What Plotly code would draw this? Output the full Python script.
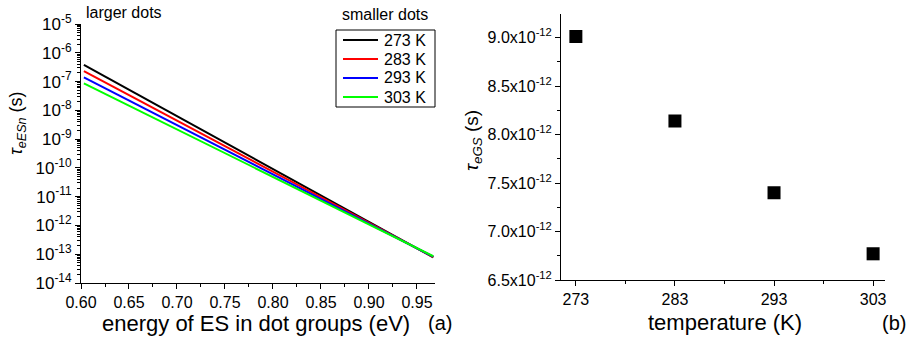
import plotly.graph_objects as go

# ---- data ----
energy_eV = [0.603, 0.967]
tau_273K = [3.8e-7, 7.8e-14]
tau_283K = [2.3e-7, 8.0e-14]
tau_293K = [1.4e-7, 8.2e-14]
tau_303K = [8.7e-8, 8.5e-14]
series_names = ["273 K", "283 K", "293 K", "303 K"]
series_colors = ["#000000", "#ff0000", "#0000ff", "#00ff00"]

temperature_K = [273, 283, 293, 303]
tau_eGS = [9.01e-12, 8.14e-12, 7.40e-12, 6.77e-12]

y_log_ticks = [10.0 ** e for e in range(-14, -4)]
y_log_text = ["10<sup>%d</sup>" % e for e in range(-14, -4)]
x_a_ticks = [0.60, 0.65, 0.70, 0.75, 0.80, 0.85, 0.90, 0.95]
y_b_ticks = [6.5e-12, 7.0e-12, 7.5e-12, 8.0e-12, 8.5e-12, 9.0e-12]
y_b_text = ["%.1fx10<sup>-12</sup>" % (v * 1e12) for v in y_b_ticks]

W, H = 906, 340
FONT = "Liberation Sans, Arial, sans-serif"

XA_RANGE = [0.60, 0.9688]
YA_RANGE = [-14, -5]
XB_RANGE = [271.5, 304.2]
YB_RANGE = [6.5e-12, 9.24e-12]
XA_DOM = [81 / W, 435 / W]
YA_DOM = [1 - 283 / H, 1 - 24 / H]
XB_DOM = [561 / W, 885 / W]
YB_DOM = [1 - 280 / H, 1 - 14.3 / H]

fig = go.Figure()
for name, col, ys in zip(series_names, series_colors, [tau_273K, tau_283K, tau_293K, tau_303K]):
    fig.add_trace(go.Scatter(x=energy_eV, y=ys, mode="lines", name=name, showlegend=False,
                             line=dict(color=col, width=2), xaxis="x", yaxis="y"))

fig.add_trace(go.Scatter(x=temperature_K, y=tau_eGS, mode="markers", showlegend=False,
                         marker=dict(symbol="square", size=13, color="black"),
                         xaxis="x2", yaxis="y2"))

axcommon = dict(showline=True, linecolor="black", linewidth=1, mirror=False, automargin=False,
                ticks="outside", tickcolor="black", showgrid=False, zeroline=False,
                tickfont=dict(family=FONT, size=16, color="black"))
mircommon = dict(showline=True, linecolor="black", linewidth=1, automargin=False,
                 ticks="inside", ticklen=3, tickcolor="black", showgrid=False, zeroline=False,
                 showticklabels=False, fixedrange=True)

fig.update_layout(
    template="none",
    width=W, height=H,
    margin=dict(l=0, r=0, t=0, b=0, pad=0),
    paper_bgcolor="white", plot_bgcolor="white",
    font=dict(family=FONT, color="black"),
    showlegend=False,
    xaxis=dict(domain=XA_DOM, range=XA_RANGE,
               tickvals=x_a_ticks, ticktext=["%.2f" % v for v in x_a_ticks], ticklen=5,
               minor=dict(ticks="outside", ticklen=3, tickcolor="black", dtick=0.025, tick0=0.6),
               anchor="y", **axcommon),
    yaxis=dict(domain=YA_DOM, type="log", range=YA_RANGE,
               tickvals=y_log_ticks, ticktext=y_log_text, ticklen=5,
               minor=dict(ticks="outside", ticklen=3, tickcolor="black", dtick="D1"),
               anchor="x", **axcommon),
    xaxis2=dict(domain=XB_DOM, range=XB_RANGE,
                tickvals=temperature_K, ticktext=[str(t) for t in temperature_K], ticklen=5,
                minor=dict(ticks="outside", ticklen=3, tickcolor="black", dtick=5, tick0=273),
                anchor="y2", **axcommon),
    yaxis2=dict(domain=YB_DOM, range=YB_RANGE,
                tickvals=y_b_ticks, ticktext=y_b_text, ticklen=5,
                minor=dict(ticks="outside", ticklen=3, tickcolor="black", dtick=0.25e-12, tick0=6.5e-12),
                anchor="x2", **axcommon),
    # mirrored top/right axes with inward ticks
    xaxis3=dict(domain=XA_DOM, range=XA_RANGE, overlaying="x", side="top", anchor="y",
                tickmode="linear", tick0=0.6, dtick=0.025, **mircommon),
    yaxis3=dict(domain=YA_DOM, type="log", range=YA_RANGE, overlaying="y", side="right", anchor="x",
                tickmode="linear", tick0=0, dtick=1, **mircommon),
    xaxis4=dict(domain=XB_DOM, range=XB_RANGE, overlaying="x2", side="top", anchor="y2",
                tickmode="linear", tick0=273, dtick=5, **mircommon),
    yaxis4=dict(domain=YB_DOM, range=YB_RANGE, overlaying="y2", side="right", anchor="x2",
                tickmode="linear", tick0=6.5e-12, dtick=0.25e-12, **mircommon),
)
fig.update_layout(yaxis_tickfont_size=17)


def px(x):
    return x / W


def py(y):
    return 1 - y / H


# manual legend (box, line samples, labels)
fig.add_shape(type="rect", xref="paper", yref="paper", x0=px(336), x1=px(435), y0=py(107), y1=py(30),
              line=dict(color="black", width=1), fillcolor="white", layer="above")
leg_y = [40, 59, 78, 97]
for name, col, yy in zip(series_names, series_colors, leg_y):
    fig.add_shape(type="line", xref="paper", yref="paper", x0=px(343), x1=px(378), y0=py(yy), y1=py(yy),
                  line=dict(color=col, width=2), layer="above")
    fig.add_annotation(text=name, x=px(382), y=py(yy), xref="paper", yref="paper",
                       xanchor="left", yanchor="middle", showarrow=False,
                       font=dict(family=FONT, size=16, color="black"))

ann = [
    dict(text="larger dots", x=84, y=13, xanchor="left", size=16),
    dict(text="smaller dots", x=430, y=15, xanchor="right", size=16),
    dict(text="(a)", x=440, y=323, xanchor="center", size=20),
    dict(text="(b)", x=894, y=323, xanchor="center", size=20),
    dict(text="energy of ES in dot groups (eV)", x=256, y=323, xanchor="center", size=22),
    dict(text="temperature (K)", x=725, y=322, xanchor="center", size=22),
]
for a in ann:
    fig.add_annotation(text=a["text"], x=px(a["x"]), y=py(a["y"]), xref="paper", yref="paper",
                       xanchor=a["xanchor"], yanchor="middle", showarrow=False,
                       font=dict(family=FONT, size=a["size"], color="black"))

fig.add_annotation(text="<i>τ</i><sub><i>eESn</i></sub> (s)", x=px(17), y=py(123),
                   xref="paper", yref="paper", textangle=-90, showarrow=False,
                   xanchor="center", yanchor="middle",
                   font=dict(family=FONT, size=18, color="black"))
fig.add_annotation(text="<i>τ</i><sub><i>eGS</i></sub> (s)", x=px(473), y=py(141),
                   xref="paper", yref="paper", textangle=-90, showarrow=False,
                   xanchor="center", yanchor="middle",
                   font=dict(family=FONT, size=19, color="black"))

fig.write_html("out.html")
